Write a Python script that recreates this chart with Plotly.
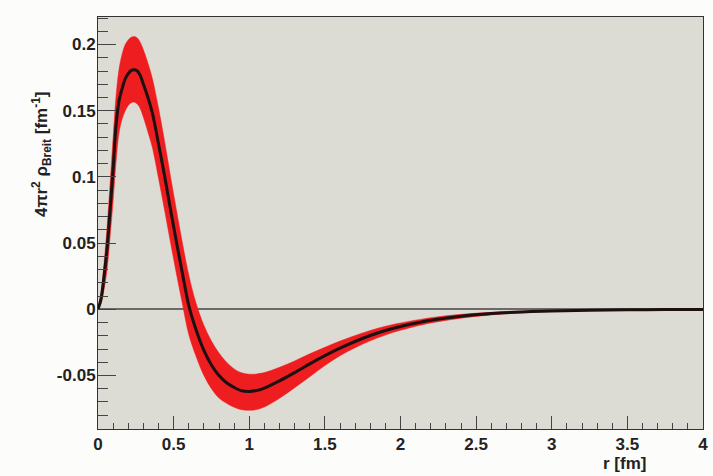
import plotly.graph_objects as go

# radius grid [fm]
r = [0, 0.02, 0.04, 0.06, 0.08, 0.10, 0.12, 0.14, 0.16, 0.18, 0.20, 0.22, 0.24, 0.26, 0.28,
     0.30, 0.33, 0.36, 0.40, 0.44, 0.48, 0.52, 0.56, 0.60, 0.65, 0.70, 0.75, 0.80, 0.85,
     0.90, 0.95, 1.00, 1.05, 1.10, 1.20, 1.30, 1.40, 1.50, 1.60, 1.70, 1.80, 1.90, 2.00,
     2.20, 2.40, 2.60, 2.80, 3.00, 3.25, 3.50, 3.75, 4.00]

# central value of 4 pi r^2 rho_Breit [fm^-1]
central = [0, 0.008, 0.025, 0.046, 0.075, 0.106, 0.140, 0.158, 0.167, 0.174, 0.178, 0.1805,
           0.181, 0.180, 0.1765, 0.170, 0.160, 0.148, 0.125, 0.101, 0.075, 0.050, 0.026,
           0.003, -0.016, -0.031, -0.042, -0.050, -0.0555, -0.059, -0.0615, -0.062, -0.0613,
           -0.0595, -0.0540, -0.0478, -0.0412, -0.0350, -0.0293, -0.0243, -0.0198, -0.0160,
           -0.0130, -0.0083, -0.0052, -0.0032, -0.0020, -0.0012, -0.0007, -0.0004, -0.0002,
           -0.0001]

# upper edge of uncertainty band
upper = [0, 0.012, 0.035, 0.062, 0.095, 0.130, 0.162, 0.182, 0.193, 0.200, 0.2035, 0.2055,
         0.206, 0.205, 0.2015, 0.196, 0.186, 0.174, 0.152, 0.127, 0.100, 0.074, 0.049,
         0.026, 0.004, -0.012, -0.024, -0.033, -0.040, -0.045, -0.048, -0.049, -0.0488,
         -0.0478, -0.0438, -0.0390, -0.0336, -0.0287, -0.0240, -0.0198, -0.0160, -0.0128,
         -0.0103, -0.0063, -0.0038, -0.0023, -0.0014, -0.0008, -0.0005, -0.0003, -0.0001, 0]

# lower edge of uncertainty band
lower = [0, 0.004, 0.015, 0.030, 0.055, 0.082, 0.112, 0.134, 0.144, 0.150, 0.154, 0.156,
         0.1565, 0.155, 0.1515, 0.145, 0.134, 0.122, 0.099, 0.075, 0.050, 0.026, 0.003,
         -0.019, -0.036, -0.050, -0.060, -0.067, -0.071, -0.0740, -0.0758, -0.0763, -0.0757,
         -0.0738, -0.0672, -0.0592, -0.0510, -0.0425, -0.0350, -0.0290, -0.0238, -0.0194,
         -0.0158, -0.0103, -0.0067, -0.0042, -0.0026, -0.0016, -0.0009, -0.0005, -0.0003,
         -0.0002]

x_tickvals = [0, 0.5, 1, 1.5, 2, 2.5, 3, 3.5, 4]
x_ticktext = ["0", "0.5", "1", "1.5", "2", "2.5", "3", "3.5", "4"]
y_tickvals = [-0.05, 0, 0.05, 0.1, 0.15, 0.2]
y_ticktext = ["-0.05", "0", "0.05", "0.1", "0.15", "0.2"]

band_color = "#ee1d1f"
font_family = "Liberation Sans, Arial, Helvetica, sans-serif"

fig = go.Figure()
fig.add_trace(go.Scatter(x=r, y=lower, mode="lines", line=dict(color=band_color, width=0.5, shape="spline"),
                         showlegend=False, hoverinfo="skip"))
fig.add_trace(go.Scatter(x=r, y=upper, mode="lines", line=dict(color=band_color, width=0.5, shape="spline"),
                         fill="tonexty", fillcolor=band_color, showlegend=False, hoverinfo="skip"))
fig.add_trace(go.Scatter(x=r, y=central, mode="lines", line=dict(color="#1c1010", width=3, shape="spline"),
                         showlegend=False))

fig.update_layout(
    width=713, height=476,
    margin=dict(l=98, r=10, t=17, b=47, autoexpand=False),
    paper_bgcolor="#fcfdfb",
    plot_bgcolor="#dddcd4",
    font=dict(family=font_family, color="#222222"),
    xaxis=dict(
        range=[0, 4], showgrid=False, zeroline=False, automargin=False,
        showline=True, mirror=True, linecolor="#333333", linewidth=1,
        ticks="inside", ticklen=13, tickcolor="#444444", tickwidth=1,
        tickvals=x_tickvals, ticktext=x_ticktext,
        tickfont=dict(size=17, weight="bold", color="#222222"),
        minor=dict(dtick=0.1, tick0=0, ticks="inside", ticklen=6, tickcolor="#444444", showgrid=False),
    ),
    yaxis=dict(
        range=[-0.0904, 0.2208], showgrid=False, automargin=False,
        zeroline=True, zerolinecolor="#6a6a6a", zerolinewidth=1.5,
        showline=True, mirror=True, linecolor="#333333", linewidth=1,
        ticks="inside", ticklen=18, tickcolor="#444444", tickwidth=1,
        tickvals=y_tickvals, ticktext=y_ticktext, ticklabelstandoff=-2,
        tickfont=dict(size=17, weight="bold", color="#222222"),
        minor=dict(dtick=0.01, tick0=0, ticks="inside", ticklen=10, tickcolor="#444444", showgrid=False),
    ),
    annotations=[
        dict(text="<b>r [fm]</b>", xref="paper", yref="paper", x=(648 - 98) / 605, y=-(463 - 429) / 412,
             xanchor="right", yanchor="middle", showarrow=False,
             font=dict(size=17, family=font_family, color="#222222")),
        dict(text="<b>4πr<sup>2</sup> ρ<sub>Breit</sub> [fm<sup>-1</sup>]</b>", xref="paper", yref="paper",
             x=-(98 - 42) / 605, y=(429 - 155) / 412, xanchor="center", yanchor="middle",
             textangle=-90, showarrow=False,
             font=dict(size=17, family=font_family, color="#222222")),
    ],
)

fig.write_html("out.html")
